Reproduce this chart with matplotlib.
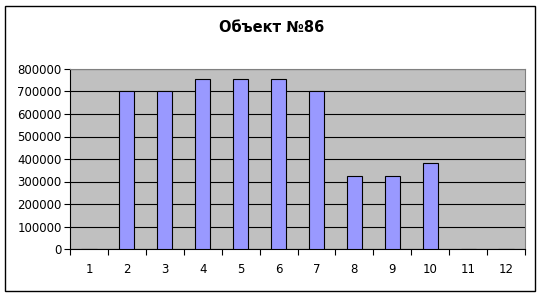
import matplotlib
matplotlib.use("Agg")
import matplotlib.pyplot as plt
from matplotlib.patches import Rectangle
import numpy as np

categories = ["1", "2", "3", "4", "5", "6", "7", "8", "9", "10", "11", "12"]
values = [0, 700000, 700000, 755000, 755000, 755000, 700000, 323000, 323000, 381000, 0, 0]
yticks = [0, 100000, 200000, 300000, 400000, 500000, 600000, 700000, 800000]
title = "Объект №86"

plt.rcParams['font.family'] = ['DejaVu Sans']
fig = plt.figure(figsize=(5.4, 2.97), dpi=100)
fig.patch.set_facecolor('white')
fig.patches.append(Rectangle((5/540, 6/297), 530/540, 285/297, transform=fig.transFigure,
                             fill=False, edgecolor='black', linewidth=1.0))
ax = fig.add_axes([70/540, 1-249/297, 455/540, 180/297])
ax.set_facecolor('#C0C0C0')
x = np.arange(1, len(categories) + 1)
ax.bar(x, values, width=0.4, color='#9999FF', edgecolor='black', linewidth=0.8, zorder=3)
ax.set_xlim(0.5, len(categories) + 0.5)
ax.set_ylim(0, 800000)
ax.set_yticks(yticks)
ax.set_yticklabels([str(v) for v in yticks], fontsize=8.5)
ax.yaxis.grid(True, color='black', linewidth=0.8, zorder=1)
ax.set_axisbelow(True)
ax.set_xticks(np.arange(0.5, len(categories) + 1, 1.0))
ax.set_xticklabels([])
ax.set_xticks(x, minor=True)
ax.set_xticklabels(categories, minor=True, fontsize=8.5)
ax.tick_params(axis='x', which='minor', length=0, pad=10)
ax.tick_params(axis='x', which='major', length=4, direction='out')
ax.tick_params(axis='y', length=4, direction='out', pad=2)
for s in ['top', 'right']:
    ax.spines[s].set_color('#808080')
    ax.spines[s].set_linewidth(0.8)
for s in ['left', 'bottom']:
    ax.spines[s].set_color('black')
    ax.spines[s].set_linewidth(0.8)
fig.text(272/540, 1-27/297, title, ha='center', va='center', fontsize=10.5, fontweight='bold')
fig.savefig("out.png", dpi=100)
